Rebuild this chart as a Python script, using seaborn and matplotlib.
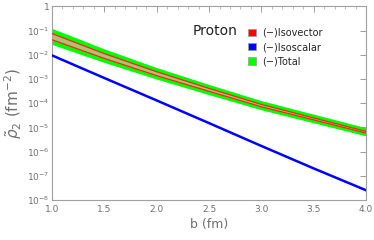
import matplotlib
matplotlib.use('Agg')
import matplotlib.pyplot as plt
import matplotlib.ticker as mticker
from matplotlib.patches import Patch
import numpy as np
import pandas as pd
import seaborn as sns

# data (b in fm, density in fm^-2)
b = [1.0, 1.5, 2.0, 2.5, 3.0, 3.5, 4.0]
total_upper = [0.105, 0.0148, 2.5e-3, 5.0e-4, 1.07e-4, 2.95e-5, 8.1e-6]
total_lower = [0.030, 5.4e-3, 1.1e-3, 2.5e-4, 5.9e-5, 1.7e-5, 4.9e-6]
isovector_upper = [0.076, 0.0112, 2.0e-3, 4.1e-4, 8.9e-5, 2.45e-5, 6.8e-6]
isovector_lower = [0.042, 7.1e-3, 1.38e-3, 3.1e-4, 7.1e-5, 2.04e-5, 5.8e-6]
isoscalar = [9.5e-3, 1.1e-3, 1.3e-4, 1.5e-5, 1.7e-6, 2.0e-7, 2.5e-8]

legend_labels = ['(\u2212)Isovector', '(\u2212)Isoscalar', '(\u2212)Total']
legend_colors = ['#ff0000', '#0000ff', '#00ff00']

sns.set_style('white')
plt.rcParams['font.family'] = ['DejaVu Sans']

fig = plt.figure(figsize=(3.74, 2.40), dpi=100)
ax = fig.add_axes([0.139, 0.167, 0.840, 0.806])

# total band (green)
ax.fill_between(b, total_lower, total_upper, color='#00ff00', lw=0, zorder=1)
sns.lineplot(x=b, y=total_upper, color='#00ff00', lw=2.0, ax=ax, zorder=2)
sns.lineplot(x=b, y=total_lower, color='#00ff00', lw=2.0, ax=ax, zorder=2)

# isovector band (red outline, olive fill)
ax.fill_between(b, isovector_lower, isovector_upper, color='#b3bd78', lw=0, zorder=3)
sns.lineplot(x=b, y=isovector_upper, color='#f02a10', lw=0.9, ax=ax, zorder=4)
sns.lineplot(x=b, y=isovector_lower, color='#f02a10', lw=0.9, ax=ax, zorder=4)

# isoscalar line
sns.lineplot(x=b, y=isoscalar, color='#0000ff', lw=1.8, ax=ax, zorder=5)

ax.set_yscale('log')
ax.set_xlim(1.0, 4.0)
ax.set_ylim(1e-8, 1)

ax.set_xticks([1.0, 1.5, 2.0, 2.5, 3.0, 3.5, 4.0])
ax.xaxis.set_minor_locator(mticker.MultipleLocator(0.1))
ax.set_yticks([10.0 ** k for k in range(-8, 1)])
ax.set_yticklabels(['$10^{-%d}$' % k for k in range(8, 0, -1)] + ['1'])
ax.yaxis.set_minor_locator(mticker.NullLocator())

gray = '#707070'
for s in ax.spines.values():
    s.set_color('#a0a0a0')
    s.set_linewidth(0.8)
ax.tick_params(which='both', direction='in', top=True, right=True,
               colors='#a0a0a0', labelcolor=gray, labelsize=6.5, pad=2)
ax.tick_params(axis='x', pad=3.5)
ax.tick_params(which='major', length=4, width=0.7)
ax.tick_params(which='minor', length=2, width=0.5)

ax.set_xlabel('b (fm)', fontsize=9, color=gray, labelpad=3)
ax.set_ylabel(r'$\tilde{\rho}_2\ (\mathrm{fm}^{-2})$', fontsize=11, color=gray, labelpad=2)

ax.text(0.449, 0.855, 'Proton', transform=ax.transAxes, fontsize=10, color='#222222')

handles = [Patch(facecolor=c, edgecolor='#999999', lw=0.5) for c in legend_colors]
ax.legend(handles, legend_labels, loc='upper left', bbox_to_anchor=(0.61, 0.915),
          frameon=False, fontsize=7, handlelength=0.8, handleheight=0.8,
          handletextpad=0.6, labelspacing=0.45, borderpad=0)

fig.savefig('out.png', dpi=100)
